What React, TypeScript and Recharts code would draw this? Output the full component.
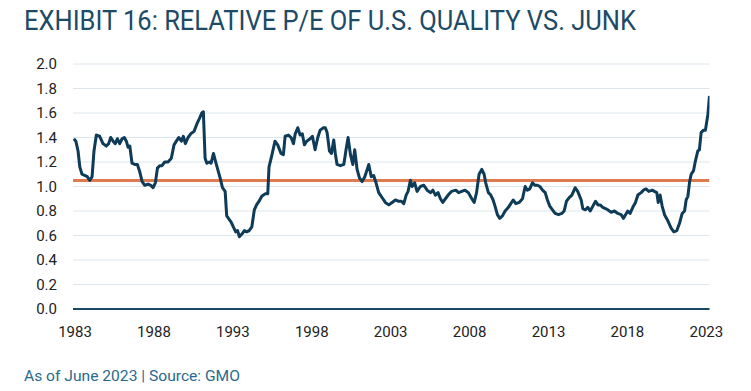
import React from "react";
import { LineChart, Line, XAxis, YAxis, CartesianGrid } from "recharts";

const titleText = "EXHIBIT 16: RELATIVE P/E OF U.S. QUALITY VS. JUNK";
const footerText = "As of June 2023 | Source: GMO";

const years: number[] = [
  1982.92, 1983.05, 1983.19, 1983.3, 1983.44, 1983.61, 1983.78, 1983.93, 1984.08, 1984.2,
  1984.35, 1984.56, 1984.77, 1984.98, 1985.13, 1985.26, 1985.41, 1985.55, 1985.68, 1985.83,
  1985.98, 1986.12, 1986.25, 1986.36, 1986.47, 1986.61, 1986.78, 1986.95, 1987.1, 1987.25,
  1987.42, 1987.63, 1987.8, 1987.94, 1988.09, 1988.22, 1988.36, 1988.51, 1988.68, 1988.89,
  1989.1, 1989.27, 1989.42, 1989.57, 1989.74, 1989.86, 1989.99, 1990.16, 1990.33, 1990.54,
  1990.75, 1990.9, 1991.03, 1991.13, 1991.24, 1991.35, 1991.5, 1991.62, 1991.77, 1991.87,
  1992.04, 1992.19, 1992.34, 1992.51, 1992.61, 1992.72, 1992.89, 1993.03, 1993.18, 1993.3,
  1993.41, 1993.56, 1993.73, 1993.88, 1994.03, 1994.2, 1994.36, 1994.5, 1994.66, 1994.83,
  1995.04, 1995.21, 1995.29, 1995.46, 1995.67, 1995.84, 1996.05, 1996.2, 1996.31, 1996.52,
  1996.69, 1996.84, 1996.95, 1997.11, 1997.26, 1997.4, 1997.53, 1997.68, 1997.89, 1998.04,
  1998.21, 1998.38, 1998.53, 1998.74, 1998.86, 1998.97, 1999.12, 1999.25, 1999.39, 1999.49,
  1999.6, 1999.81, 2000.03, 2000.17, 2000.3, 2000.45, 2000.6, 2000.72, 2000.87, 2001.02,
  2001.19, 2001.36, 2001.51, 2001.61, 2001.77, 2001.92, 2002.07, 2002.24, 2002.45, 2002.66,
  2002.88, 2003.09, 2003.3, 2003.47, 2003.68, 2003.83, 2003.98, 2004.1, 2004.25, 2004.35,
  2004.52, 2004.67, 2004.88, 2005.1, 2005.31, 2005.52, 2005.67, 2005.83, 2006.0, 2006.15,
  2006.3, 2006.47, 2006.64, 2006.85, 2007.13, 2007.3, 2007.5, 2007.71, 2007.92, 2008.14,
  2008.29, 2008.44, 2008.6, 2008.77, 2008.92, 2009.02, 2009.19, 2009.34, 2009.49, 2009.61,
  2009.76, 2009.91, 2010.08, 2010.25, 2010.46, 2010.61, 2010.76, 2010.93, 2011.14, 2011.35,
  2011.52, 2011.66, 2011.81, 2011.98, 2012.15, 2012.3, 2012.45, 2012.62, 2012.79, 2012.93,
  2013.08, 2013.25, 2013.42, 2013.63, 2013.84, 2013.99, 2014.14, 2014.31, 2014.48, 2014.69,
  2014.85, 2015.07, 2015.17, 2015.34, 2015.49, 2015.64, 2015.81, 2015.98, 2016.13, 2016.27,
  2016.44, 2016.61, 2016.75, 2016.97, 2017.18, 2017.39, 2017.6, 2017.75, 2017.88, 2018.02,
  2018.17, 2018.34, 2018.51, 2018.66, 2018.87, 2019.01, 2019.18, 2019.35, 2019.57, 2019.71,
  2019.86, 2019.95, 2020.07, 2020.2, 2020.35, 2020.56, 2020.77, 2020.94, 2021.13, 2021.3,
  2021.47, 2021.62, 2021.72, 2021.83, 2021.94, 2022.04, 2022.19, 2022.31, 2022.46, 2022.56,
  2022.67, 2022.82, 2022.94, 2023.1, 2023.2,
];

const relativePE: number[] = [
  1.39, 1.37, 1.29, 1.16, 1.1, 1.09, 1.08, 1.05, 1.08, 1.29,
  1.42, 1.41, 1.35, 1.33, 1.35, 1.4, 1.37, 1.35, 1.39, 1.35,
  1.39, 1.4, 1.37, 1.32, 1.33, 1.19, 1.18, 1.18, 1.12, 1.04,
  1.01, 1.02, 1.01, 0.99, 1.03, 1.15, 1.17, 1.17, 1.2, 1.2,
  1.23, 1.34, 1.37, 1.4, 1.37, 1.41, 1.35, 1.4, 1.43, 1.45,
  1.52, 1.56, 1.6, 1.61, 1.23, 1.19, 1.2, 1.19, 1.27, 1.22,
  1.14, 1.07, 0.99, 0.96, 0.76, 0.74, 0.71, 0.67, 0.63, 0.64,
  0.59, 0.61, 0.64, 0.63, 0.64, 0.67, 0.81, 0.85, 0.88, 0.92,
  0.94, 0.94, 1.16, 1.25, 1.37, 1.34, 1.27, 1.26, 1.41, 1.42,
  1.4, 1.35, 1.43, 1.48, 1.42, 1.43, 1.34, 1.37, 1.39, 1.41,
  1.3, 1.4, 1.46, 1.48, 1.48, 1.44, 1.29, 1.27, 1.38, 1.27,
  1.18, 1.17, 1.18, 1.3, 1.4, 1.26, 1.18, 1.3, 1.14, 1.07,
  1.04, 1.08, 1.14, 1.18, 1.08, 1.09, 1.03, 0.95, 0.91, 0.87,
  0.85, 0.87, 0.89, 0.88, 0.88, 0.86, 0.93, 0.96, 1.05, 1.0,
  1.03, 0.96, 1.0, 1.01, 0.97, 0.95, 0.97, 0.93, 0.95, 0.9,
  0.87, 0.9, 0.93, 0.96, 0.97, 0.95, 0.96, 0.97, 0.95, 0.9,
  0.87, 0.95, 1.1, 1.14, 1.1, 1.03, 0.95, 0.93, 0.89, 0.84,
  0.77, 0.74, 0.76, 0.8, 0.83, 0.86, 0.89, 0.86, 0.87, 0.9,
  1.0, 0.97, 0.98, 1.03, 1.01, 1.01, 1.0, 0.97, 0.95, 0.89,
  0.84, 0.81, 0.78, 0.77, 0.78, 0.8, 0.88, 0.91, 0.93, 0.99,
  0.96, 0.89, 0.82, 0.81, 0.83, 0.8, 0.84, 0.88, 0.85, 0.85,
  0.83, 0.82, 0.81, 0.79, 0.8, 0.78, 0.77, 0.74, 0.77, 0.8,
  0.78, 0.83, 0.87, 0.93, 0.95, 0.97, 0.98, 0.96, 0.97, 0.96,
  0.95, 0.87, 0.93, 0.84, 0.77, 0.72, 0.66, 0.63, 0.64, 0.7,
  0.78, 0.8, 0.89, 0.92, 1.04, 1.1, 1.13, 1.21, 1.29, 1.3,
  1.44, 1.46, 1.46, 1.59, 1.74,
];

const averageValue = 1.05;
const averageYears: number[] = [1982.87, 2023.2];

const xTicks: number[] = [1983, 1988, 1993, 1998, 2003, 2008, 2013, 2018, 2023];
const yTicks: number[] = [0, 0.2, 0.4, 0.6, 0.8, 1.0, 1.2, 1.4, 1.6, 1.8, 2.0];
const xDomain: [number, number] = [1982.87, 2023.2];

const seriesData = years.map((y, i) => ({ year: y, pe: relativePE[i] }));
const averageData = averageYears.map((y) => ({ year: y, avg: averageValue }));

const tickStyle = { fontFamily: "Roboto, 'Noto Sans', sans-serif", fontSize: 15, fill: "#222222" };

export default function App() {
  return (
    <div style={{ position: "absolute", left: 0, top: 0, width: 751, height: 391, background: "#ffffff" }}>
      <svg width={751} height={391} style={{ position: "absolute", left: 0, top: 0 }}>
        <text
          x={24}
          y={30}
          fontFamily="Roboto, 'Noto Sans', sans-serif"
          fontSize={28}
          fill="#1D4A66"
          textLength={612}
          lengthAdjust="spacingAndGlyphs"
        >
          {titleText}
        </text>
        <text
          x={24}
          y={381}
          fontFamily="Roboto, 'Noto Sans', sans-serif"
          fontSize={15}
          fill="#2A6A8C"
          textLength={216}
          lengthAdjust="spacingAndGlyphs"
        >
          {footerText}
        </text>
      </svg>
      <div style={{ position: "absolute", left: 0, top: 0 }}>
        <LineChart
          width={751}
          height={391}
          margin={{ top: 64, right: 41.5, bottom: 52, left: 33 }}
        >
          <CartesianGrid vertical={false} stroke="#DCE6ED" strokeWidth={1} />
          <XAxis
            type="number"
            dataKey="year"
            domain={xDomain}
            ticks={xTicks}
            allowDataOverflow
            height={30}
            tickLine={false}
            tickSize={0}
            tickMargin={17}
            axisLine={{ stroke: "#1B4763", strokeWidth: 2 }}
            tick={tickStyle}
            interval={0}
          />
          <YAxis
            type="number"
            domain={[0, 2]}
            ticks={yTicks}
            width={40}
            tickLine={false}
            tickSize={0}
            tickMargin={16}
            axisLine={false}
            tick={tickStyle}
            tickFormatter={(v: number) => v.toFixed(1)}
            interval={0}
          />
          <Line
            data={averageData}
            dataKey="avg"
            stroke="#E07A4F"
            strokeWidth={3}
            dot={false}
            activeDot={false}
            isAnimationActive={false}
          />
          <Line
            data={seriesData}
            dataKey="pe"
            stroke="#0E3B57"
            strokeWidth={3}
            dot={false}
            activeDot={false}
            strokeLinejoin="round"
            isAnimationActive={false}
          />
        </LineChart>
      </div>
    </div>
  );
}
